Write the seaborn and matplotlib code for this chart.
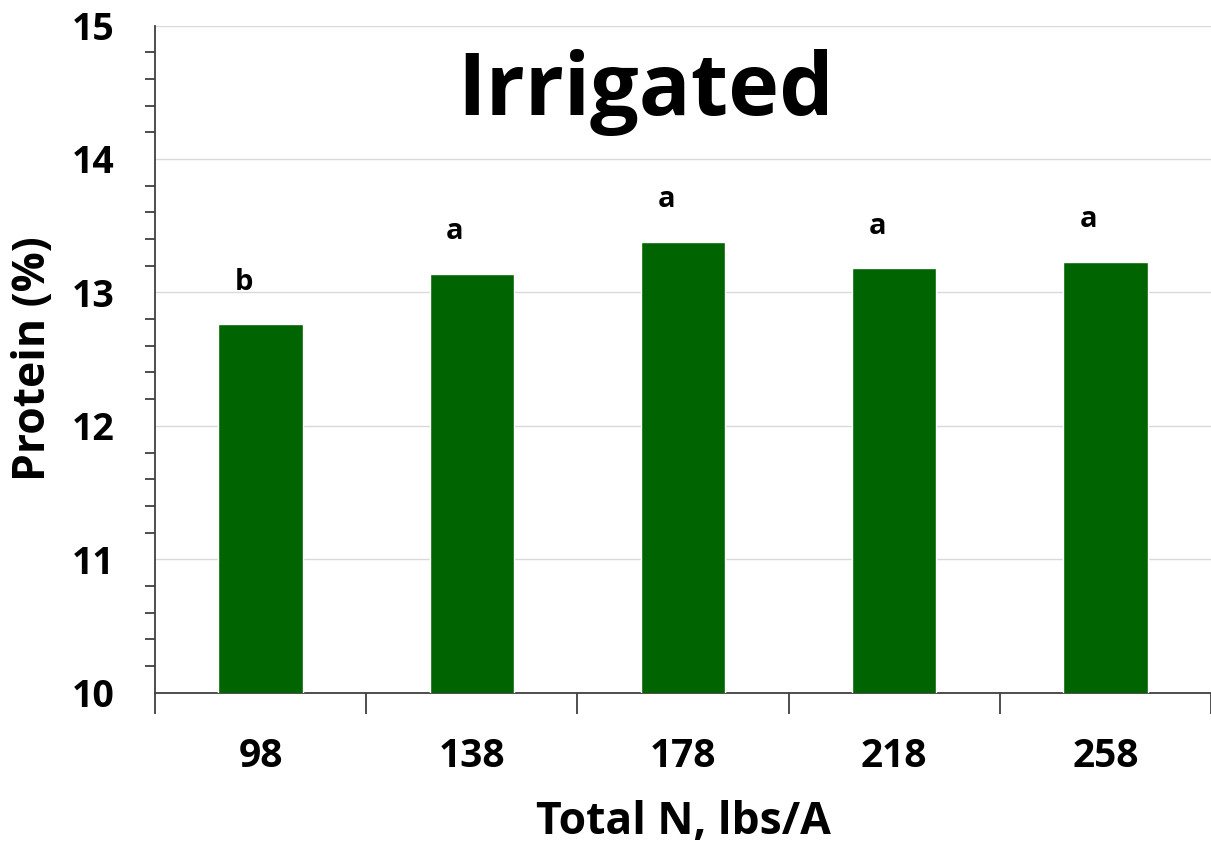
import matplotlib
matplotlib.use("Agg")
import matplotlib.pyplot as plt
from matplotlib.ticker import MultipleLocator, FixedLocator
import seaborn as sns
import pandas as pd

# Data
total_n = ["98", "138", "178", "218", "258"]
protein = [12.76, 13.14, 13.38, 13.18, 13.23]
letters = ["b", "a", "a", "a", "a"]

df = pd.DataFrame({"Total N": total_n, "Protein": protein})

sns.set_style("white")
plt.rcParams["font.family"] = ["Open Sans", "DejaVu Sans"]
plt.rcParams["font.weight"] = "bold"
plt.rcParams["text.color"] = "black"
plt.rcParams["axes.labelcolor"] = "black"
plt.rcParams["xtick.color"] = "black"
plt.rcParams["ytick.color"] = "black"

fig = plt.figure(figsize=(12.11, 8.52), dpi=100)
ax = fig.add_axes([0.128, 0.187, 0.872, 0.783])

sns.barplot(data=df, x="Total N", y="Protein", color="#006400",
            width=0.4, saturation=1, ax=ax, zorder=3)

ax.set_ylim(10, 15)
ax.set_xlim(-0.5, 4.5)
ax.yaxis.set_major_locator(MultipleLocator(1))
ax.yaxis.set_minor_locator(MultipleLocator(0.2))
ax.grid(axis="y", which="major", color="#d9d9d9", linewidth=1, zorder=0)

# x ticks at category boundaries, labels centred under bars
ax.xaxis.set_major_locator(FixedLocator([i + 0.5 for i in range(-1, len(total_n))]))
ax.set_xticklabels([])
for i, lab in enumerate(total_n):
    ax.text(i, -0.096, lab, transform=ax.get_xaxis_transform(), ha="center",
            va="center", fontsize=28, fontweight="bold")

ax.tick_params(axis="y", which="major", direction="out", length=13, width=1.3,
               labelsize=27, color="#404040", pad=16)
ax.tick_params(axis="y", which="minor", direction="out", length=7, width=1.3,
               color="#404040", left=True)
ax.tick_params(axis="x", which="major", direction="out", length=15, width=1.3,
               color="#404040", bottom=True)
for t in ax.get_yticklabels():
    t.set_fontweight("bold")

for side in ["top", "right"]:
    ax.spines[side].set_visible(False)
for side in ["left", "bottom"]:
    ax.spines[side].set_color("#404040")
    ax.spines[side].set_linewidth(1.3)

ax.set_xlabel("Total N, lbs/A", fontsize=32, fontweight="bold", va="center")
ax.set_ylabel("Protein (%)", fontsize=32, fontweight="bold", va="center")
ax.xaxis.set_label_coords(0.5, -0.195)
ax.yaxis.set_label_coords(-0.115, 0.5)

for i, (v, l) in enumerate(zip(protein, letters)):
    ax.text(i - 0.08, v + 0.26, l, ha="center", va="baseline",
            fontsize=21, fontweight="bold")

ax.text(0.465, 0.9, "Irrigated", transform=ax.transAxes, ha="center",
        va="center", fontsize=62, fontweight="bold")

fig.savefig("out.png", dpi=100)
